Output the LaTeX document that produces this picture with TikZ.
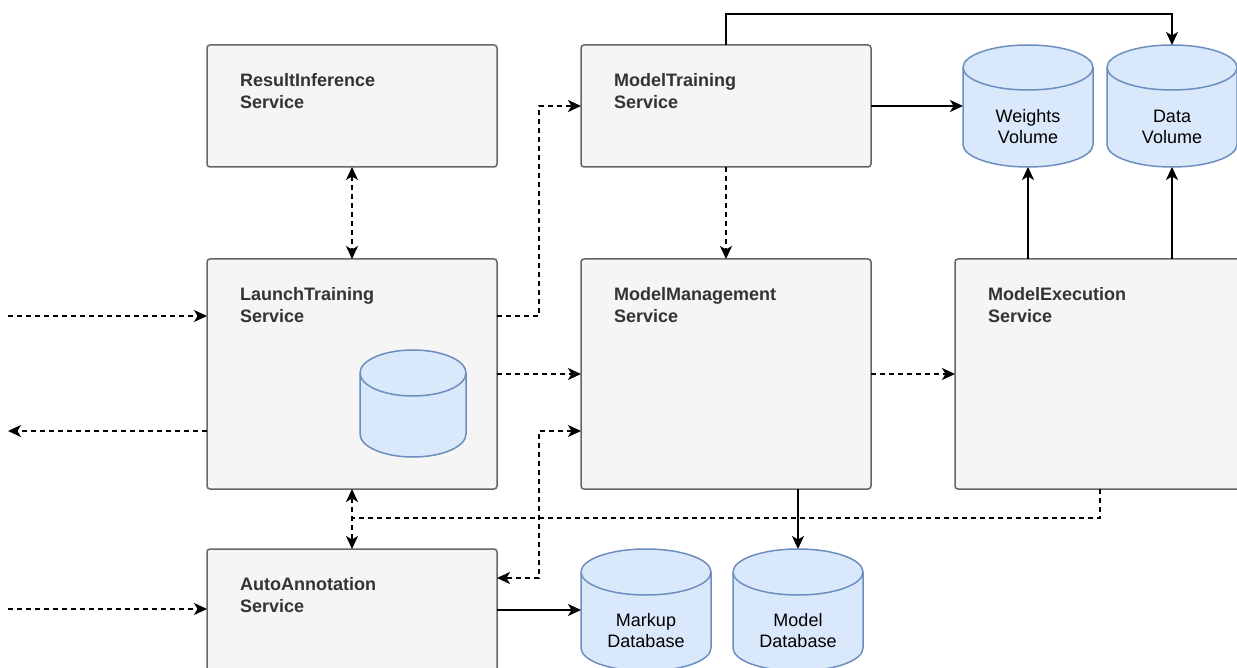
\documentclass[tikz,border=0pt]{standalone}
\usepackage{fontspec}
\setmainfont{Liberation Sans}
\usetikzlibrary{arrows.meta,calc}

\definecolor{boxfill}{HTML}{F5F5F5}
\definecolor{boxline}{HTML}{666666}
\definecolor{boxtext}{HTML}{333333}
\definecolor{dbfill}{HTML}{DAE8FC}
\definecolor{dbline}{HTML}{6C8EBF}

\tikzset{
  service/.style={draw=boxline, fill=boxfill, line width=1.5pt, rounded corners=3pt,
    minimum width=290pt, inner sep=0pt, outer sep=0pt},
  svclabel/.style={anchor=north west, inner sep=0pt, align=left, text=boxtext,
    font=\fontsize{18pt}{21.5pt}\selectfont\bfseries},
  dbnode/.style={minimum width=130pt, minimum height=122pt, inner sep=0pt, outer sep=0pt},
  dblabel/.style={inner sep=0pt, align=center, text=black,
    font=\fontsize{18pt}{21pt}\selectfont},
  flow/.style={line width=1.6pt, -{Stealth[length=13pt,width=12pt,inset=3.5pt]}},
  dashline/.style={line width=1.6pt, dash pattern=on 5pt off 4pt},
  dep/.style={flow, dashline},
  depboth/.style={dep, {Stealth[length=13pt,width=12pt,inset=3.5pt]}-{Stealth[length=13pt,width=12pt,inset=3.5pt]}},
}

% database cylinder drawn over a named rectangle node; #2 = half width, #3 = end radius
\newcommand\dbdraw[3]{%
  \filldraw[fill=dbfill, draw=dbline, line width=1.5pt]
    ($(#1.north west)+(0,#3)$) -- ($(#1.south west)+(0,-#3)$)
    arc[start angle=180, end angle=360, x radius=#2pt, y radius=#3pt]
    -- ($(#1.north east)+(0,#3)$)
    arc[start angle=0, end angle=180, x radius=#2pt, y radius=#3pt] -- cycle;
  \draw[draw=dbline, line width=1.5pt]
    ($(#1.north west)+(0,#3)$)
    arc[start angle=180, end angle=360, x radius=#2pt, y radius=#3pt];
}

\begin{document}
\begin{tikzpicture}[x=1pt, y=-1pt]
\useasboundingbox (0,0) rectangle (1237,668);
\clip (0,0) rectangle (1237,668);

% service boxes
\node[service, minimum height=122pt, anchor=north west] (ri) at (207,45) {};
\node[service, minimum height=122pt, anchor=north west] (mt) at (581,45) {};
\node[service, minimum height=230pt, anchor=north west] (lt) at (207,259) {};
\node[service, minimum height=230pt, anchor=north west] (mm) at (581,259) {};
\node[service, minimum height=230pt, anchor=north west] (me) at (955,259) {};
\node[service, minimum height=230pt, anchor=north west] (aa) at (207,549) {};

\node[svclabel] (riT) at ($(ri.north west)+(33,28.5)$) {ResultInference\\Service};
\node[svclabel] (mtT) at ($(mt.north west)+(33,28.5)$) {ModelTraining\\Service};
\node[svclabel] (ltT) at ($(lt.north west)+(33,28.5)$) {LaunchTraining\\Service};
\node[svclabel] (mmT) at ($(mm.north west)+(33,28.5)$) {ModelManagement\\Service};
\node[svclabel] (meT) at ($(me.north west)+(33,28.5)$) {ModelExecution\\Service};
\node[svclabel] (aaT) at ($(aa.north west)+(33,28.5)$) {AutoAnnotation\\Service};

% storage cylinders
\node[dbnode, anchor=north west] (wv) at (963,45) {};
\node[dbnode, anchor=north west] (dv) at (1107,45) {};
\node[dbnode, anchor=north west] (mkdb) at (581,549) {};
\node[dbnode, anchor=north west] (mdb) at (733,549) {};
\node[dbnode, minimum width=106pt, minimum height=107pt, anchor=north west] (ltdb) at (360,350) {};

\dbdraw{wv}{65}{22.5}
\dbdraw{dv}{65}{22.5}
\dbdraw{mkdb}{65}{23}
\dbdraw{mdb}{65}{23}
\dbdraw{ltdb}{53}{23}

\node[dblabel] (wvT) at ($(wv.center)+(0,21)$) {Weights\\Volume};
\node[dblabel] (dvT) at ($(dv.center)+(0,21)$) {Data\\Volume};
\node[dblabel] (mkdbT) at ($(mkdb.center)+(0,21)$) {Markup\\Database};
\node[dblabel] (mdbT) at ($(mdb.center)+(0,21)$) {Model\\Database};

% external endpoints on the left
\coordinate (inLT) at (8,316);
\coordinate (outLT) at (8,431);
\coordinate (inAA) at (8,609);

% dashed dependencies
\draw[depboth] (ri.south) -- (lt.north);
\draw[depboth] (lt.south) -- (aa.north);
\draw[dep] ($(lt.north east)+(0,57)$) -- ++(42,0) |- (mt.west);
\draw[dep] (lt.east) -- (mm.west);
\draw[depboth] ($(mm.west)+(0,57)$) -- ++(-42,0) |- ($(aa.north east)+(0,29)$);
\draw[dep] (mt.south) -- (mm.north);
\draw[dep] (mm.east) -- (me.west);
\draw[dashline] (me.south) |- ($(lt.south)+(0,29)$);
\draw[dep] (inLT) -- (inLT -| lt.west);
\draw[dep] (outLT -| lt.west) -- (outLT);
\draw[dep] (inAA) -- (inAA -| aa.west);

% solid data flows
\draw[flow] (mt.east) -- (wv.west);
\draw[flow] (mt.north) -- ++(0,-31) -| (dv.north);
\draw[flow] (me.north -| wv.south) -- (wv.south);
\draw[flow] (me.north -| dv.south) -- (dv.south);
\draw[flow] (mm.south -| mdb.north) -- (mdb.north);
\draw[flow] (mkdb.west -| aa.east) -- (mkdb.west);
\end{tikzpicture}
\end{document}
